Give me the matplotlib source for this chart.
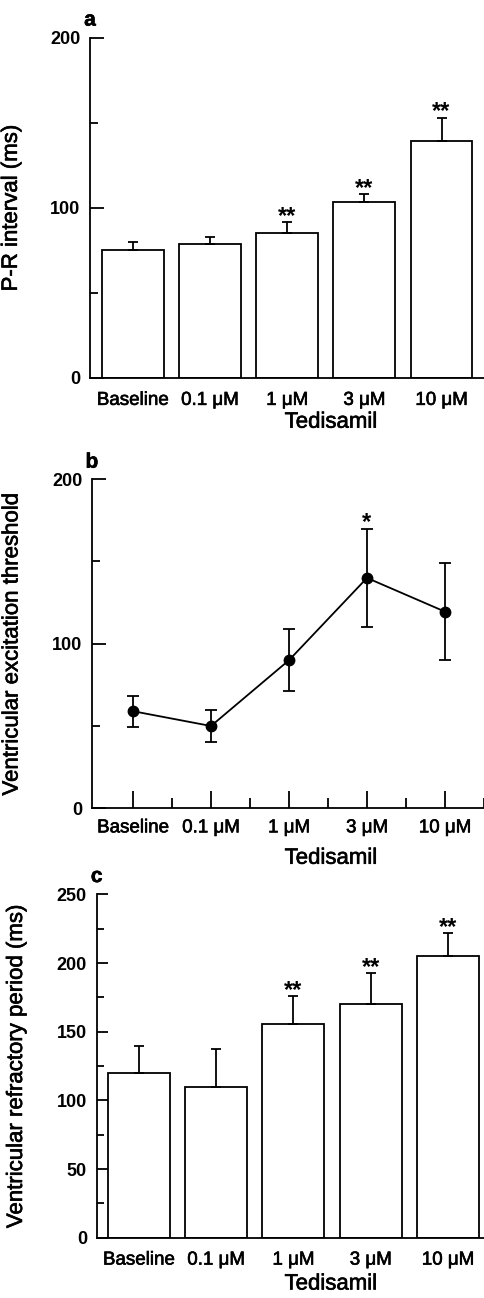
import matplotlib
matplotlib.use("Agg")
import matplotlib.pyplot as plt
import matplotlib.patheffects as pe
import numpy as np

plt.rcParams['font.family'] = ['Liberation Sans', 'DejaVu Sans']

# data
doses = ['Baseline', '0.1 \u03bcM', '1 \u03bcM', '3 \u03bcM', '10 \u03bcM']

pr_mean = [75.5, 78.5, 85.5, 103.5, 139.5]
pr_sem = [4.5, 4.5, 6.0, 4.5, 13.5]
pr_sig = ['', '', '**', '**', '**']

thr_mean = [59, 50, 90, 140, 119.5]
thr_sem = [9.5, 9.5, 19, 30, 29.5]
thr_sig = ['', '', '', '*', '']

erp_mean = [120, 109.5, 155.5, 170.5, 205]
erp_sem = [19.5, 28, 20.5, 22, 17]
erp_sig = ['', '', '**', '**', '**']

LW = 1.3
# slight stroke so the text looks as heavy as the printed figure
THICK = [pe.withStroke(linewidth=0.45, foreground='black')]


def add_stars(ax, means, sems, sig):
    for xi, m, s, t in zip(range(len(means)), means, sems, sig):
        if t:
            ax.annotate(t, (xi, m + s), xytext=(0, -0.5), textcoords='offset points',
                        ha='center', va='baseline', fontsize=17, fontweight='bold')


def style_axis(ax, ymax, major, minor, letter, ylabel):
    for s in ('top', 'right'):
        ax.spines[s].set_visible(False)
    for s in ('left', 'bottom'):
        ax.spines[s].set_linewidth(LW)
    ax.set_ylim(0, ymax)
    ax.set_yticks(major)
    ax.set_yticks(minor, minor=True)
    ax.tick_params(axis='y', which='major', direction='in', length=10, width=LW,
                   pad=7, labelsize=13)
    ax.tick_params(axis='y', which='minor', direction='in', length=5.5, width=LW)
    for lab in ax.get_yticklabels():
        lab.set_fontweight('bold')
    ax.set_xticks(range(len(doses)))
    ax.set_xticklabels(doses, fontsize=13.5)
    for lab in ax.get_xticklabels():
        lab.set_path_effects(THICK)
    ax.set_ylabel(ylabel, fontsize=16, path_effects=THICK)
    ax.set_xlabel('Tedisamil', fontsize=16, path_effects=THICK)
    ax.xaxis.label.set_va('center')
    ax.text(0, 1.052, letter, transform=ax.transAxes, ha='center', va='center',
            fontsize=15, fontweight='bold', path_effects=THICK)


def bar_panel(ax, means, sems, sig, xlim, ymax, major, minor, letter, ylabel):
    x = np.arange(len(means))
    ax.bar(x, means, width=0.8, color='white', edgecolor='black', linewidth=LW, zorder=2)
    ax.errorbar(x, means, yerr=[np.zeros(len(sems)), sems], fmt='none', ecolor='black',
                elinewidth=LW, capsize=3.4, capthick=LW, zorder=3)
    add_stars(ax, means, sems, sig)
    ax.set_xlim(*xlim)
    style_axis(ax, ymax, major, minor, letter, ylabel)
    ax.tick_params(axis='x', length=0, pad=10)


fig = plt.figure(figsize=(4.84, 12.98), dpi=100)

# panel a
ax1 = fig.add_axes([0.186, 0.7088, 0.814, 0.2621])
bar_panel(ax1, pr_mean, pr_sem, pr_sig, (-0.553, 4.55), 200, [0, 100, 200], [50, 150],
          'a', 'P-R interval (ms)')
ax1.yaxis.set_label_coords(-0.173, 0.5)
ax1.xaxis.set_label_coords(0.612, -0.13)

# panel b
ax2 = fig.add_axes([0.190, 0.3773, 0.810, 0.2535])
x = np.arange(len(thr_mean))
ax2.errorbar(x, thr_mean, yerr=thr_sem, fmt='-o', color='black', lw=LW, ms=7.5,
             elinewidth=LW, capsize=4.3, capthick=LW, zorder=3)
add_stars(ax2, thr_mean, thr_sem, thr_sig)
ax2.set_xlim(-0.526, 4.386)
style_axis(ax2, 200, [0, 100, 200], [50, 150], 'b', 'Ventricular excitation threshold')
ax2.set_xticks(x + 0.5, minor=True)
ax2.tick_params(axis='x', which='major', direction='in', length=12, width=LW, pad=8)
ax2.tick_params(axis='x', which='minor', direction='in', length=7, width=LW)
ax2.yaxis.set_label_coords(-0.177, 0.5)
ax2.xaxis.set_label_coords(0.61, -0.152)

# panel c
ax3 = fig.add_axes([0.1998, 0.04646, 0.8002, 0.2645])
bar_panel(ax3, erp_mean, erp_sem, erp_sig, (-0.545, 4.466), 250, np.arange(0, 251, 50),
          np.arange(25, 250, 50), 'c', 'Ventricular refractory period (ms)')
ax3.tick_params(axis='y', which='major', length=8)
ax3.tick_params(axis='y', which='minor', length=5)
ax3.yaxis.set_label_coords(-0.18, 0.5)
ax3.xaxis.set_label_coords(0.605, -0.135)

fig.savefig('out.png', dpi=100)
